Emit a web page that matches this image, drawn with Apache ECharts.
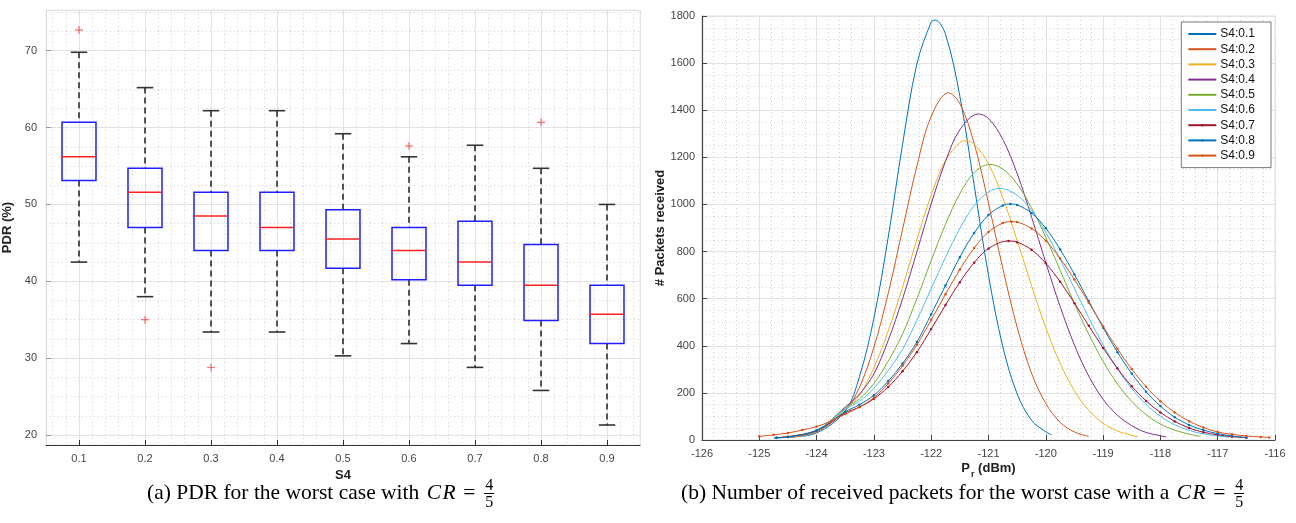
<!DOCTYPE html>
<html>
<head>
<meta charset="utf-8">
<script src="https://cdn.jsdelivr.net/npm/echarts@6.0.0/dist/echarts.min.js"></script>
<style>
  html, body { margin: 0; padding: 0; background: #fff; }
  #wrap { position: relative; width: 1296px; height: 523px; overflow: hidden; }
  #chartA { position: absolute; left: 0; top: 0; width: 650px; height: 523px; }
  #chartB { position: absolute; left: 640px; top: 0; width: 656px; height: 523px; }
  .cap { position: absolute; top: 478px; font-family: "Liberation Serif", "DejaVu Serif", serif; font-size: 21.5px; color: #000; white-space: nowrap; }
  .cap i { font-style: italic; letter-spacing: 1.5px; margin-left: 2px; }
  .cap .eq { margin: 0 9px 0 6px; }
  .frac { display: inline-block; vertical-align: middle; text-align: center; font-size: 16px; line-height: 16px; position: relative; top: -1px; }
  .frac span { display: block; padding: 0 1px; }
  .frac .num { border-bottom: 1px solid #000; }
</style>
</head>
<body>
<div id="wrap">
  <div id="chartA"></div>
  <div id="chartB"></div>
  <div class="cap" style="left:147px">(a) PDR for the worst case with <i>CR</i><span class="eq">=</span><span class="frac"><span class="num">4</span><span>5</span></span></div>
  <div class="cap" style="left:681px">(b) Number of received packets for the worst case with a <i>CR</i><span class="eq">=</span><span class="frac"><span class="num">4</span><span>5</span></span></div>
</div>
<script>
// ---- (a) boxplot of PDR per S4 ----
var s4Values = [0.1, 0.2, 0.3, 0.4, 0.5, 0.6, 0.7, 0.8, 0.9];
var whiskerLow = [42.5, 38.0, 33.4, 33.4, 30.3, 31.9, 28.8, 25.8, 21.3];
var q1 = [53.1, 47.0, 44.0, 44.0, 41.7, 40.2, 39.5, 34.9, 31.9];
var medians = [56.2, 51.6, 48.5, 47.0, 45.5, 44.0, 42.5, 39.5, 35.7];
var q3 = [60.7, 54.7, 51.6, 51.6, 49.3, 47.0, 47.8, 44.8, 39.5];
var whiskerHigh = [69.8, 65.2, 62.2, 62.2, 59.2, 56.2, 57.7, 54.7, 50.0];
var outliers = [[0.1, 72.7], [0.2, 35.0], [0.3, 28.8], [0.6, 57.6], [0.8, 60.7]];

// ---- (b) packets received vs Pr, one list per S4 ----
var seriesNames = ['S4:0.1', 'S4:0.2', 'S4:0.3', 'S4:0.4', 'S4:0.5', 'S4:0.6', 'S4:0.7', 'S4:0.8', 'S4:0.9'];
var lineColors = ['#0072BD', '#D95319', '#EDB120', '#7E2F8E', '#77AC30', '#4DBEEE', '#A2142F', '#0072BD', '#D95319'];
var curve01 = [[-124.75,8],[-124.5,12],[-124,30],[-123.5,123],[-123.25,271],[-123,517],[-122.75,861],[-122.5,1255],[-122.25,1596],[-122,1774],[-121.93,1783],[-121.75,1722],[-121.5,1460],[-121.25,1081],[-121,699],[-120.75,396],[-120.5,196],[-120.25,84],[-120,35],[-119.9,22]];
var curve02 = [[-124.6,12],[-124.5,14],[-124,35],[-123.5,125],[-123.25,225],[-123,394],[-122.75,623],[-122.5,894],[-122.25,1163],[-122,1374],[-121.7,1474],[-121.5,1428],[-121.25,1259],[-121,1005],[-120.75,728],[-120.5,479],[-120.25,284],[-120,155],[-119.75,75],[-119.5,34],[-119.25,15]];
var curve03 = [[-124.4,12],[-124,35],[-123.5,130],[-123.25,191],[-123,307],[-122.75,463],[-122.5,649],[-122.25,851],[-122,1040],[-121.75,1187],[-121.5,1263],[-121.4,1270],[-121.25,1256],[-121,1172],[-120.75,1029],[-120.5,847],[-120.25,656],[-120,477],[-119.75,326],[-119.5,209],[-119.25,126],[-119,71],[-118.75,38],[-118.4,14]];
var curve04 = [[-124.5,10],[-124,38],[-123.5,140],[-123.25,195],[-123,281],[-122.75,423],[-122.5,599],[-122.25,799],[-122,1002],[-121.75,1183],[-121.5,1317],[-121.18,1384],[-121,1365],[-120.75,1276],[-120.5,1131],[-120.25,948],[-120,753],[-119.75,567],[-119.5,403],[-119.25,271],[-119,173],[-118.75,105],[-118.5,61],[-118.25,32],[-118,18],[-117.9,12]];
var curve05 = [[-124.5,10],[-124,40],[-123.5,135],[-123.25,175],[-123,240],[-122.75,335],[-122.5,450],[-122.25,600],[-122,762],[-121.75,916],[-121.5,1046],[-121.25,1135],[-120.98,1170],[-120.75,1150],[-120.5,1087],[-120.25,986],[-120,860],[-119.75,721],[-119.5,580],[-119.25,449],[-119,334],[-118.75,238],[-118.5,164],[-118.25,108],[-118,68],[-117.75,42],[-117.5,25],[-117.3,15]];
var curve06 = [[-124.6,10],[-124,42],[-123.5,130],[-123.25,165],[-123,220],[-122.75,295],[-122.5,385],[-122.25,508],[-122,643],[-121.75,776],[-121.5,898],[-121.25,995],[-121,1053],[-120.8,1068],[-120.5,1039],[-120.25,975],[-120,881],[-119.75,767],[-119.5,643],[-119.25,519],[-119,404],[-118.75,302],[-118.5,218],[-118.25,151],[-118,101],[-117.75,65],[-117.5,41],[-117.25,26],[-117,17],[-116.8,12]];
var curve07 = [[-124.7,10],[-124.5,14],[-124,40],[-123.5,115],[-123.25,140],[-123,175],[-122.75,225],[-122.5,292],[-122.25,373],[-122,471],[-121.75,573],[-121.5,670],[-121.25,753],[-121,813],[-120.65,845],[-120.5,840],[-120.25,808],[-120,750],[-119.75,672],[-119.5,581],[-119.25,485],[-119,391],[-118.75,304],[-118.5,228],[-118.25,166],[-118,117],[-117.75,79],[-117.5,51],[-117.25,33],[-117,22],[-116.75,14],[-116.5,10]];
var curve08 = [[-124.7,10],[-124.5,13],[-124,40],[-123.5,120],[-123.25,150],[-123,190],[-122.75,250],[-122.5,325],[-122.25,416],[-122,534],[-121.75,656],[-121.5,776],[-121.25,879],[-121,955],[-120.75,996],[-120.62,1002],[-120.5,998],[-120.25,964],[-120,899],[-119.75,809],[-119.5,703],[-119.25,589],[-119,477],[-118.75,373],[-118.5,282],[-118.25,205],[-118,144],[-117.75,97],[-117.5,64],[-117.25,42],[-117,27],[-116.75,17],[-116.5,11]];
var curve09 = [[-125,15],[-124.75,22],[-124.5,30],[-124.25,42],[-124,57],[-123.75,80],[-123.5,110],[-123.25,140],[-123,180],[-122.75,240],[-122.5,315],[-122.25,404],[-122,510],[-121.75,619],[-121.5,724],[-121.25,815],[-121,883],[-120.75,921],[-120.6,927],[-120.5,925],[-120.25,898],[-120,846],[-119.75,771],[-119.5,681],[-119.25,583],[-119,483],[-118.75,387],[-118.5,301],[-118.25,226],[-118,165],[-117.75,117],[-117.5,80],[-117.25,53],[-117,34],[-116.75,24],[-116.5,17],[-116.25,13],[-116.1,11]];
var curves = [curve01, curve02, curve03, curve04, curve05, curve06, curve07, curve08, curve09];
var withMarkers = [false, false, false, false, false, false, true, true, true];

var labelFont = '"Liberation Sans", Arial, sans-serif';
var gridGrey = '#e3e3e3';
var minorGrey = '#d0d0d0';

// ---------- chart (a) ----------
var chartA = echarts.init(document.getElementById('chartA'));
var boxData = s4Values.map(function (v, i) {
    return [v, whiskerLow[i], q1[i], medians[i], q3[i], whiskerHigh[i]];
});
var optionA = {
    animation: false,
    grid: { left: 46, right: 10, top: 10, bottom: 78, outerBoundsMode: 'none', containLabel: false,
            show: true, borderColor: '#ececec', borderWidth: 1 },
    xAxis: {
        type: 'value',
        min: 0.05, max: 0.95,
        minInterval: 0.1, maxInterval: 0.1,
        name: 'S4',
        nameLocation: 'middle',
        nameGap: 18,
        nameTextStyle: { fontFamily: labelFont, fontWeight: 'bold', fontSize: 13, color: '#222' },
        axisLine: { show: true, lineStyle: { color: '#333', width: 1.2 } },
        axisTick: { show: true, inside: true, length: 5, lineStyle: { color: '#333' } },
        axisLabel: {
            showMinLabel: false, showMaxLabel: false,
            fontFamily: labelFont, fontSize: 11, color: '#444', margin: 8,
            formatter: function (v) { return v.toFixed(1); }
        },
        splitLine: { show: true, lineStyle: { color: gridGrey, width: 1 } },
        minorTick: { show: false, splitNumber: 5 },
        minorSplitLine: { show: true, lineStyle: { color: minorGrey, type: [1, 3], width: 1 } }
    },
    yAxis: {
        type: 'value',
        min: 18.7, max: 75.3,
        minInterval: 10, maxInterval: 10,
        name: 'PDR (%)',
        nameLocation: 'middle',
        nameGap: 24,
        nameTextStyle: { fontFamily: labelFont, fontWeight: 'bold', fontSize: 13, color: '#222' },
        axisLine: { show: true, lineStyle: { color: '#dcdcdc' } },
        axisTick: { show: true, inside: true, length: 5, lineStyle: { color: '#999' } },
        axisLabel: { showMinLabel: false, showMaxLabel: false, fontFamily: labelFont, fontSize: 11, color: '#444', margin: 9 },
        splitLine: { show: true, lineStyle: { color: gridGrey, width: 1 } },
        minorTick: { show: false, splitNumber: 4 },
        minorSplitLine: { show: true, lineStyle: { color: minorGrey, type: [1, 3], width: 1 } }
    },
    series: [
        {
            type: 'custom',
            data: boxData,
            encode: { x: 0, y: [1, 2, 3, 4, 5] },
            renderItem: function (params, api) {
                var x = api.value(0);
                var lo = api.coord([x, api.value(1)]);
                var b1 = api.coord([x, api.value(2)]);
                var md = api.coord([x, api.value(3)]);
                var b3 = api.coord([x, api.value(4)]);
                var hi = api.coord([x, api.value(5)]);
                var half = api.size([0.0515, 0])[0] / 2;
                var cap = api.size([0.025, 0])[0] / 2;
                var dash = { stroke: '#111', lineWidth: 1.4, lineDash: [6, 4] };
                var capStyle = { stroke: '#333', lineWidth: 1.6 };
                return {
                    type: 'group',
                    children: [
                        { type: 'line', shape: { x1: hi[0], y1: hi[1], x2: b3[0], y2: b3[1] }, style: dash },
                        { type: 'line', shape: { x1: b1[0], y1: b1[1], x2: lo[0], y2: lo[1] }, style: dash },
                        { type: 'line', shape: { x1: hi[0] - cap, y1: hi[1], x2: hi[0] + cap, y2: hi[1] }, style: capStyle },
                        { type: 'line', shape: { x1: lo[0] - cap, y1: lo[1], x2: lo[0] + cap, y2: lo[1] }, style: capStyle },
                        { type: 'rect', shape: { x: b3[0] - half, y: b3[1], width: half * 2, height: b1[1] - b3[1] },
                          style: { fill: 'none', stroke: '#1f1fff', lineWidth: 1.5 } },
                        { type: 'line', shape: { x1: md[0] - half, y1: md[1], x2: md[0] + half, y2: md[1] },
                          style: { stroke: '#ff2020', lineWidth: 1.5 } }
                    ]
                };
            },
            z: 3
        },
        {
            type: 'scatter',
            data: outliers,
            symbol: 'path://M4.4,0H5.6V4.4H10V5.6H5.6V10H4.4V5.6H0V4.4H4.4Z',
            symbolSize: 8,
            itemStyle: { color: '#ff2020' },
            z: 4
        }
    ]
};
chartA.setOption(optionA);

// ---------- chart (b) ----------
var chartB = echarts.init(document.getElementById('chartB'));
var lineSeries = curves.map(function (c, i) {
    return {
        name: seriesNames[i],
        type: 'line',
        data: c,
        smooth: 0.35,
        symbol: withMarkers[i] ? 'circle' : 'none',
        showSymbol: withMarkers[i],
        symbolSize: 2.5,
        itemStyle: { color: lineColors[i] },
        lineStyle: { color: lineColors[i], width: 1 },
        z: 2 + i
    };
});
var legendItems = seriesNames.map(function (n, i) {
    return withMarkers[i] ? { name: n } : { name: n, itemStyle: { color: 'rgba(0,0,0,0)', borderWidth: 0 } };
});
var optionB = {
    animation: false,
    color: lineColors,
    grid: { left: 62, right: 21, top: 16, bottom: 83, outerBoundsMode: 'none', containLabel: false,
            show: true, borderColor: '#e0e0e0', borderWidth: 1 },
    legend: {
        data: legendItems,
        orient: 'vertical',
        right: 25, top: 22,
        itemWidth: 28, itemHeight: 3, itemGap: 3.2,
        backgroundColor: '#fff',
        borderColor: '#555', borderWidth: 0.8,
        padding: [6, 16, 6, 6],
        textStyle: { fontFamily: labelFont, fontSize: 12, lineHeight: 12, color: '#111', padding: [0, 0, 0, -1] }
    },
    xAxis: {
        type: 'value',
        min: -126, max: -116, interval: 1,
        name: '{b|P}{s|r}{b| (dBm)}',
        nameLocation: 'middle',
        nameGap: 22,
        nameMoveOverlap: false,
        nameTextStyle: {
            rich: {
                b: { fontFamily: labelFont, fontWeight: 'bold', fontSize: 13, color: '#222', lineHeight: 16, verticalAlign: 'top' },
                s: { fontFamily: labelFont, fontWeight: 'bold', fontSize: 9, color: '#222', lineHeight: 16, padding: [8, 0, 0, 1], verticalAlign: 'top' }
            }
        },
        axisLine: { show: true, lineStyle: { color: '#444', width: 1.2 } },
        axisTick: { show: true, inside: true, length: 5, lineStyle: { color: '#444' } },
        axisLabel: { fontFamily: labelFont, fontSize: 11, color: '#444', margin: 8 },
        splitLine: { show: true, lineStyle: { color: gridGrey, width: 1 } },
        minorTick: { show: false, splitNumber: 5 },
        minorSplitLine: { show: true, lineStyle: { color: minorGrey, type: [1, 3], width: 1 } }
    },
    yAxis: {
        type: 'value',
        min: 0, max: 1800, interval: 200,
        name: '# Packets received',
        nameLocation: 'middle',
        nameGap: 35,
        nameMoveOverlap: false,
        nameTextStyle: { fontFamily: labelFont, fontWeight: 'bold', fontSize: 13, color: '#222' },
        axisLine: { show: true, lineStyle: { color: '#444', width: 1.2 } },
        axisTick: { show: true, inside: true, length: 5, lineStyle: { color: '#444' } },
        axisLabel: { fontFamily: labelFont, fontSize: 11, color: '#444', margin: 7,
                     formatter: function (v) { return String(v); } },
        splitLine: { show: true, lineStyle: { color: gridGrey, width: 1 } },
        minorTick: { show: false, splitNumber: 4 },
        minorSplitLine: { show: true, lineStyle: { color: minorGrey, type: [1, 3], width: 1 } }
    },
    series: lineSeries
};
chartB.setOption(optionB);
</script>
</body>
</html>
